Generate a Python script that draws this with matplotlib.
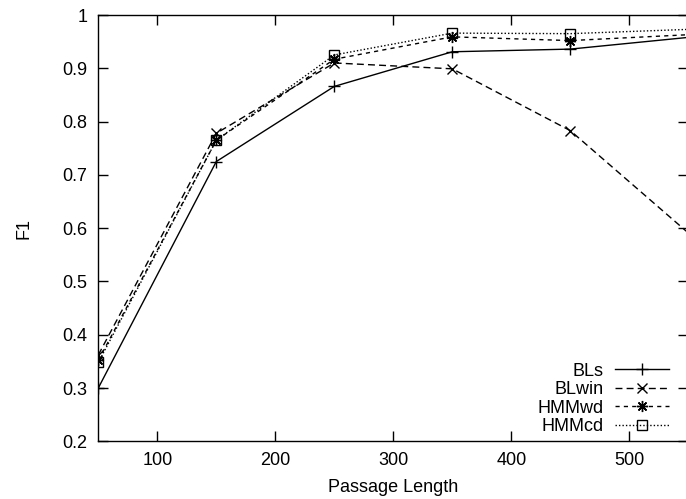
import matplotlib
matplotlib.use("Agg")
import matplotlib.pyplot as plt

plt.rcParams["font.family"] = ["Liberation Sans", "DejaVu Sans"]

passage_length = [50, 150, 250, 350, 450, 550]
bls = [0.300, 0.725, 0.866, 0.931, 0.936, 0.958]
blwin = [0.362, 0.778, 0.910, 0.899, 0.783, 0.591]
hmmwd = [0.352, 0.765, 0.917, 0.959, 0.952, 0.963]
hmmcd = [0.348, 0.765, 0.925, 0.966, 0.965, 0.973]

x_ticks = [100, 200, 300, 400, 500]
y_ticks = [0.2, 0.3, 0.4, 0.5, 0.6, 0.7, 0.8, 0.9, 1.0]
y_tick_labels = ["0.2", "0.3", "0.4", "0.5", "0.6", "0.7", "0.8", "0.9", "1"]

fs = 13

fig = plt.figure(figsize=(6.86, 4.99), dpi=100)
ax = fig.add_axes([98.3 / 686, 57.7 / 499, 590 / 686, 426.3 / 499])

# last point sits on the right spine, just off the picture: no marker drawn
shown = list(range(len(passage_length) - 1))
lw = 1.0
ax.plot(passage_length, bls, color="black", lw=lw, linestyle="-",
        marker="+", markersize=8, markeredgewidth=1.0, markevery=shown,
        label="BLs")
ax.plot(passage_length, blwin, color="black", lw=lw, linestyle=(0, (5, 3)),
        marker="x", markersize=7, markeredgewidth=1.0, markevery=shown,
        label="BLwin")
ax.plot(passage_length, hmmwd, color="black", lw=lw, linestyle=(0, (3, 3)),
        marker=(8, 2, 0), markersize=8, markeredgewidth=1.0, markevery=shown,
        label="HMMwd")
ax.plot(passage_length, hmmcd, color="black", lw=lw, linestyle=(0, (1, 1.5)),
        marker="s", markersize=7, markeredgewidth=1.0, fillstyle="none",
        markevery=shown, label="HMMcd")

ax.set_xlim(50, 550)
ax.set_ylim(0.2, 1.0)
ax.set_xticks(x_ticks)
ax.set_yticks(y_ticks)
ax.set_yticklabels(y_tick_labels)
ax.tick_params(direction="in", top=True, right=True, length=7, width=1,
               labelsize=fs, pad=8)
for s in ax.spines.values():
    s.set_linewidth(1)

ax.set_xlabel("Passage Length", fontsize=fs, labelpad=7)
ax.set_ylabel("F1", fontsize=fs, labelpad=21)

ax.legend(loc="lower right", bbox_to_anchor=(669 / 686, 64 / 499),
          bbox_transform=fig.transFigure, frameon=False, markerfirst=False,
          fontsize=fs, handlelength=3.0, handletextpad=0.6,
          labelspacing=0.08, borderpad=0, borderaxespad=0)

fig.savefig("out.png", dpi=100)
